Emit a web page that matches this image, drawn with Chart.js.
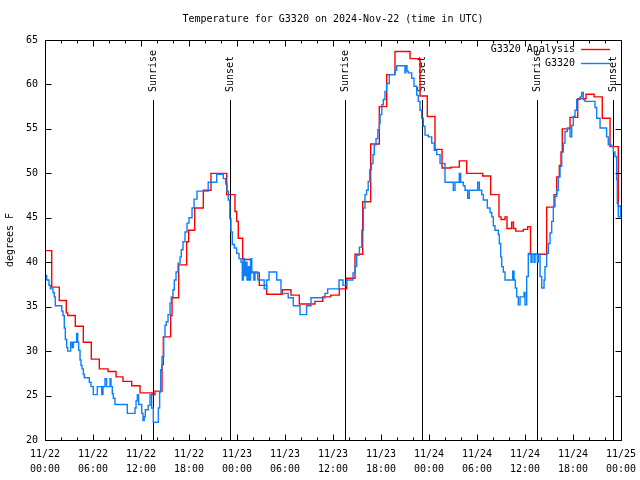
<!DOCTYPE html>
<html>
<head>
<meta charset="utf-8">
<script src="https://cdn.jsdelivr.net/npm/chart.js@4.4.1/dist/chart.umd.min.js"></script>
<style>
  html, body { margin: 0; padding: 0; background: #fff; }
  canvas { display: block; }
</style>
</head>
<body>
<canvas id="tempChart" width="640" height="480"></canvas>
<script>
// hours since 2024-11-22 00:00 UTC
const analysisHours = [0, 0.84, 1.79, 2.66, 2.84, 3.79, 4.79, 5.79, 6.79, 7.88, 8.88, 9.75, 10.84, 11.88, 13.4, 13.75,
  14.63, 14.79, 15.71, 15.88, 16.71, 17.71, 17.96, 18.71, 19.79, 20.75, 22.71, 23.75, 23.96, 24.16, 24.71, 25.71,
  26.79, 27.71, 29.66, 30.75, 31.79, 33.75, 34.71, 35.71, 36.79, 37.71, 38.75, 39.71, 40.71, 41.79, 42.71, 43.75,
  45.63, 46.88, 47.79, 48.75, 49.63, 50.75, 51.79, 52.71, 54.71, 55.71, 56.75, 57.0, 57.5, 57.75, 58.34, 58.56,
  58.84, 59.79, 60.34, 60.69, 62.71, 63.63, 63.96, 64.29, 64.5, 64.66, 65.63, 66.59, 67.63, 68.63, 69.66, 70.63,
  71.66, 72];
const analysisTemps = [41.3, 37.2, 35.7, 34.3, 34.0, 32.8, 31.0, 29.1, 28.0, 27.7, 27.1, 26.6, 26.1, 25.3, 25.1, 25.5,
  28.5, 31.6, 34.0, 36.0, 39.7, 42.3, 43.6, 46.1, 48.1, 50.0, 47.6, 45.7, 44.6, 42.7, 40.3, 38.8,
  37.4, 36.4, 36.9, 36.3, 35.3, 35.6, 36.1, 36.3, 37.0, 38.2, 40.9, 46.8, 53.3, 57.5, 61.1, 63.7,
  62.9, 58.7, 56.4, 52.7, 50.6, 50.7, 51.4, 50.0, 49.7, 47.6, 45.1, 44.8, 45.1, 43.8, 44.5, 43.8,
  43.5, 43.7, 44.0, 40.9, 46.2, 47.6, 49.6, 50.9, 52.4, 55.0, 56.3, 58.4, 58.9, 58.6, 56.2, 53.0,
  46.3, 46.3];

const stationHours = [0, 0.21, 0.5, 0.66, 1.0, 1.16, 1.29, 2.09, 2.25, 2.41, 2.54, 2.71, 2.84, 3.21, 3.4, 3.55,
  3.96, 4.09, 4.21, 4.38, 4.5, 4.63, 4.79, 4.91, 5.54, 5.75, 6.04, 6.54, 7.09, 7.25, 7.5, 7.7,
  8.13, 8.25, 8.41, 8.54, 8.75, 10.29, 11.25, 11.38, 11.54, 11.7, 12.09, 12.25, 12.4, 12.54, 12.9, 13.13,
  13.33, 13.54, 14.17, 14.33, 14.46, 14.63, 14.84, 15.0, 15.16, 15.38, 15.63, 15.79, 16.0, 16.16, 16.38, 16.63,
  16.88, 17.04, 17.25, 17.5, 17.75, 18.0, 18.38, 18.63, 19.0, 20.4, 21.46, 22.29, 22.59, 22.75, 22.91, 23.1,
  23.25, 23.41, 23.66, 23.96, 24.25, 24.5, 24.66, 24.8, 24.95, 25.1, 25.25, 25.4, 25.55, 25.7, 25.85, 26.1,
  26.25, 26.6, 27.0, 27.4, 27.7, 28.0, 28.96, 29.5, 30.4, 31.04, 31.88, 32.7, 33.25, 35.0, 35.33, 36.75,
  37.25, 37.7, 38.5, 38.75, 38.96, 39.3, 39.6, 39.8, 40.0, 40.2, 40.4, 40.6, 40.8, 41.0, 41.16, 41.38,
  41.6, 41.8, 41.88, 42.1, 42.29, 42.5, 42.7, 43.04, 43.75, 43.96, 45.0, 45.1, 45.25, 45.41, 45.84, 46.13,
  46.46, 46.66, 46.88, 47.09, 47.29, 47.5, 47.91, 48.34, 48.66, 48.96, 49.38, 50.0, 51.04, 51.25, 51.79, 51.96,
  52.29, 52.5, 52.84, 53.04, 54.09, 54.29, 54.59, 54.79, 55.29, 55.63, 55.84, 56.04, 56.25, 56.66, 56.79, 56.96,
  57.09, 57.29, 57.5, 58.46, 58.63, 58.79, 58.96, 59.16, 59.38, 59.88, 60.0, 60.21, 60.41, 60.54, 60.75, 60.88,
  61.13, 61.25, 61.54, 61.66, 61.88, 62.09, 62.38, 62.5, 62.71, 62.91, 63.13, 63.34, 63.54, 63.75, 63.96, 64.16,
  64.38, 64.59, 64.79, 65.0, 65.29, 65.63, 65.84, 66.04, 66.25, 66.46, 66.88, 67.09, 67.29, 67.5, 68.75, 68.96,
  69.38, 70.2, 70.41, 70.84, 71.04, 71.25, 71.46, 71.54, 71.66, 71.96, 72];
const stationTemps = [38.5, 38.0, 37.4, 37.0, 36.6, 36.1, 35.1, 34.5, 34.0, 32.6, 31.3, 30.4, 30.0, 31.0, 30.4, 31.0,
  32.0, 31.0, 30.1, 29.0, 28.4, 28.0, 27.4, 27.0, 26.5, 26.0, 25.1, 26.0, 25.1, 26.0, 26.9, 26.0,
  26.9, 26.0, 25.2, 24.7, 24.0, 23.0, 23.6, 24.4, 25.1, 24.0, 23.0, 22.2, 22.6, 23.4, 23.9, 25.1,
  23.6, 22.0, 23.6, 25.4, 27.9, 29.4, 31.6, 32.9, 33.3, 34.1, 35.4, 36.1, 36.9, 38.0, 38.9, 39.9,
  40.6, 41.4, 42.3, 43.4, 44.4, 45.0, 46.1, 47.1, 48.0, 49.0, 49.9, 49.4, 48.8, 48.0, 47.0, 44.9,
  43.4, 42.0, 41.6, 41.0, 40.4, 40.0, 38.0, 40.4, 38.5, 40.0, 38.0, 39.5, 38.0, 40.4, 38.9, 38.0,
  38.9, 38.0, 38.0, 37.0, 38.0, 38.9, 38.0, 36.5, 36.0, 35.1, 34.1, 35.1, 36.0, 36.5, 37.0, 38.0,
  37.4, 38.0, 38.8, 39.5, 40.8, 41.7, 43.6, 46.1, 47.6, 48.1, 49.1, 50.4, 51.1, 52.1, 53.2, 53.9,
  54.9, 55.6, 56.6, 57.7, 58.3, 59.2, 60.1, 61.1, 61.6, 62.1, 61.3, 62.1, 61.5, 61.3, 60.7, 59.8,
  58.8, 58.1, 57.1, 56.2, 55.3, 54.3, 54.1, 53.4, 52.6, 52.1, 51.1, 49.0, 48.1, 49.0, 50.0, 49.0,
  48.6, 48.1, 47.2, 48.1, 49.0, 48.1, 47.6, 47.0, 46.1, 45.6, 45.1, 44.1, 43.6, 43.1, 42.1, 40.6,
  39.5, 38.9, 38.0, 39.0, 38.0, 37.1, 36.1, 35.2, 36.1, 36.6, 35.2, 38.4, 41.0, 40.9, 40.0, 40.9,
  40.0, 40.9, 40.0, 40.9, 38.4, 37.1, 38.0, 39.5, 41.0, 42.1, 43.3, 44.6, 46.3, 47.4, 48.1, 49.6,
  50.8, 52.4, 53.4, 54.7, 55.1, 54.1, 55.4, 56.4, 57.1, 58.3, 58.6, 59.1, 58.3, 58.1, 57.4, 56.2,
  55.1, 54.1, 53.2, 53.0, 52.4, 51.9, 49.3, 46.6, 45.1, 46.3, 46.3];

const seriesNames = ['G3320 Analysis', 'G3320'];
const seriesColors = ['#ff0000', '#0a7fff'];

const xTickHours = [0, 6, 12, 18, 24, 30, 36, 42, 48, 54, 60, 66, 72];
const xTickLabels = [['11/22', '00:00'], ['11/22', '06:00'], ['11/22', '12:00'], ['11/22', '18:00'],
  ['11/23', '00:00'], ['11/23', '06:00'], ['11/23', '12:00'], ['11/23', '18:00'],
  ['11/24', '00:00'], ['11/24', '06:00'], ['11/24', '12:00'], ['11/24', '18:00'], ['11/25', '00:00']];
const yMin = 20, yMax = 65, yStep = 5;

const sunHours = [13.54, 23.13, 37.56, 47.13, 61.54, 71.0];
const sunLabels = ['Sunrise', 'Sunset', 'Sunrise', 'Sunset', 'Sunrise', 'Sunset'];

const FONT = '10px "DejaVu Sans Mono", monospace';

function toPoints(xs, ys) {
  return xs.map((x, i) => ({ x: x, y: ys[i] }));
}

const decorations = {
  id: 'decorations',
  beforeDatasetsDraw(chart) {
    const ctx = chart.ctx, area = chart.chartArea, xs = chart.scales.x;
    ctx.save();
    ctx.strokeStyle = '#000';
    ctx.lineWidth = 1;
    ctx.fillStyle = '#000';
    ctx.font = FONT;
    sunHours.forEach((h, i) => {
      const px = Math.round(xs.getPixelForValue(h)) + 0.5;
      ctx.beginPath();
      ctx.moveTo(px, 100);
      ctx.lineTo(px, area.bottom);
      ctx.stroke();
      ctx.save();
      ctx.translate(px, 92);
      ctx.rotate(-Math.PI / 2);
      ctx.textAlign = 'left';
      ctx.textBaseline = 'middle';
      ctx.fillText(sunLabels[i], 0, 0);
      ctx.restore();
    });
    ctx.restore();
  },
  afterDraw(chart) {
    const ctx = chart.ctx, area = chart.chartArea;
    const xs = chart.scales.x, ys = chart.scales.y;
    ctx.save();
    ctx.strokeStyle = '#000';
    ctx.fillStyle = '#000';
    ctx.lineWidth = 1;
    const L = Math.round(area.left) + 0.5, R = Math.round(area.right) + 0.5;
    const T = Math.round(area.top) + 0.5, B = Math.round(area.bottom) + 0.5;
    ctx.strokeRect(L, T, R - L, B - T);

    ctx.beginPath();
    for (let h = 0; h <= 72; h += 2) {
      const px = Math.round(xs.getPixelForValue(h)) + 0.5;
      const len = (h % 6 === 0) ? 6 : 3;
      ctx.moveTo(px, B); ctx.lineTo(px, B - len);
      ctx.moveTo(px, T); ctx.lineTo(px, T + len);
    }
    for (let v = yMin; v <= yMax; v += yStep) {
      const py = Math.round(ys.getPixelForValue(v)) + 0.5;
      ctx.moveTo(L, py); ctx.lineTo(L + 6, py);
      ctx.moveTo(R, py); ctx.lineTo(R - 6, py);
    }
    ctx.stroke();

    ctx.font = FONT;
    ctx.textAlign = 'center';
    ctx.textBaseline = 'middle';
    ctx.fillText('Temperature for G3320 on 2024-Nov-22 (time in UTC)', (area.left + area.right) / 2, 19);

    ctx.save();
    ctx.translate(10, 240);
    ctx.rotate(-Math.PI / 2);
    ctx.fillText('degrees F', 0, 0);
    ctx.restore();

    ctx.textAlign = 'right';
    seriesNames.forEach((name, i) => {
      const y = 49 + i * 14;
      ctx.fillStyle = '#000';
      ctx.fillText(name, 575, y);
      ctx.strokeStyle = seriesColors[i];
      ctx.lineWidth = 1.4;
      ctx.beginPath();
      ctx.moveTo(581, y + 0.5);
      ctx.lineTo(610, y + 0.5);
      ctx.stroke();
    });
    ctx.restore();
  }
};

new Chart(document.getElementById('tempChart'), {
  type: 'line',
  data: {
    datasets: [
      {
        label: seriesNames[0],
        data: toPoints(analysisHours, analysisTemps),
        borderColor: seriesColors[0],
        borderWidth: 1.4,
        pointRadius: 0,
        stepped: true,
        order: 1
      },
      {
        label: seriesNames[1],
        data: toPoints(stationHours, stationTemps),
        borderColor: seriesColors[1],
        borderWidth: 1.4,
        pointRadius: 0,
        stepped: true,
        order: 0
      }
    ]
  },
  options: {
    responsive: false,
    animation: false,
    devicePixelRatio: 1,
    layout: { padding: { left: 0, right: 19, top: 40, bottom: 0 } },
    plugins: {
      legend: { display: false },
      title: { display: false },
      tooltip: { enabled: false }
    },
    scales: {
      x: {
        type: 'linear',
        min: 0,
        max: 72,
        grid: { display: false, drawTicks: false },
        border: { display: false },
        afterBuildTicks(scale) { scale.ticks = xTickHours.map(v => ({ value: v })); },
        afterFit(scale) {
          scale.height = 40;
          scale.paddingLeft = 0;
          scale.paddingRight = 0;
        },
        ticks: {
          autoSkip: false,
          maxRotation: 0,
          padding: 7,
          color: '#000',
          font: { family: '"DejaVu Sans Mono", monospace', size: 10, lineHeight: 1.5 },
          callback: (v) => xTickLabels[xTickHours.indexOf(v)]
        }
      },
      y: {
        min: yMin,
        max: yMax,
        grid: { display: false, drawTicks: false },
        border: { display: false },
        afterFit(scale) { scale.width = 45; },
        ticks: {
          stepSize: yStep,
          padding: 7,
          color: '#000',
          font: { family: '"DejaVu Sans Mono", monospace', size: 10 }
        }
      }
    }
  },
  plugins: [decorations]
});
</script>
</body>
</html>
